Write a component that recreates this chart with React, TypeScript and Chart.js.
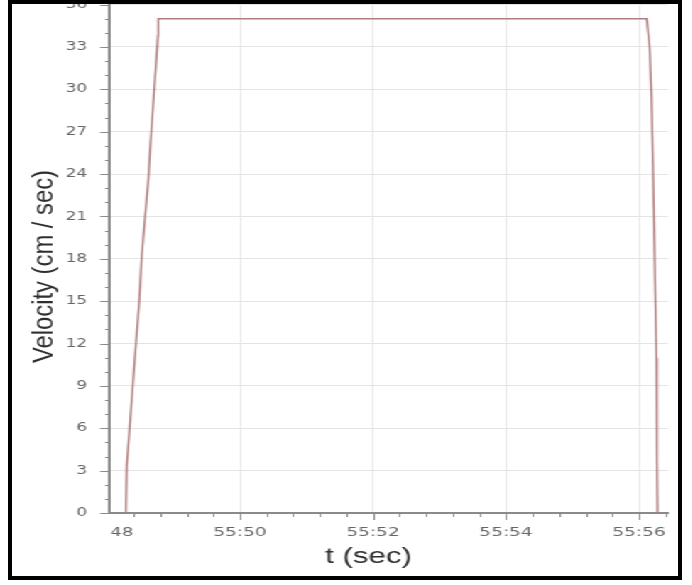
import React, { useEffect, useRef } from 'react';
import { Chart, registerables } from 'chart.js';

Chart.register(...registerables);

// ---------- data ----------
const timeSec = [48.283, 48.296, 48.335, 48.371, 48.486, 48.522, 48.621, 48.647, 48.767, 48.771, 56.116, 56.16, 56.19, 56.225, 56.262, 56.27, 56.278];
const velocity = [0, 3.3, 5.7, 8.0, 15.1, 18.2, 23.6, 25.7, 33.8, 35, 35, 33, 29.3, 21, 11, 3.6, 0];

const xMajorSeconds = [48, 50, 52, 54, 56];
const xMajorLabels = ['55:48', '55:50', '55:52', '55:54', '55:56'];
const xMinorStep = 0.4;
const yMajorStep = 3;
const yMinorStep = 1;
const yTitle = 'Velocity (cm / sec)';
const xTitle = 't (sec)';

// ---------- layout (canvas coordinates, before horizontal stretch) ----------
const STRETCH = 1.42;
const CANVAS_W = 487;
const CANVAS_H = 605;
const SHIFT_Y = 20;
const PLOT_LEFT = 110 / STRETCH;
const PLOT_RIGHT = 668 / STRETCH;
const PLOT_TOP = 4.6 + SHIFT_Y;
const PLOT_BOTTOM = 513 + SHIFT_Y;
const X_MIN = 48.045;
const X_MAX = 56.436;
const Y_MIN = 0;
const Y_MAX = 36;

const AXIS = '#8a8a8a';
const GRID = '#e4e4e4';
const TICK_COLOR = '#666666';
const TITLE_COLOR = '#2e2e2e';
const LINE_COLOR = '#b07c7c';

const xTickValues: number[] = [];
for (let i = 1; i < 100; i++) {
  const v = Math.round((48 + xMinorStep * i) * 10) / 10;
  if (v > X_MAX) break;
  xTickValues.push(v);
}
const yTickValues: number[] = [];
for (let v = Y_MIN; v <= Y_MAX; v += yMinorStep) yTickValues.push(v);

const isMajorX = (v: number) => xMajorSeconds.some((m) => Math.abs(m - v) < 1e-6);
const xLabel = (v: number) => {
  const i = xMajorSeconds.findIndex((m) => Math.abs(m - v) < 1e-6);
  return i >= 0 ? xMajorLabels[i] : '';
};
const isMajorY = (v: number) => Math.abs(v % yMajorStep) < 1e-6;

const decorPlugin = {
  id: 'decor',
  afterDraw(chart: any) {
    const { ctx, chartArea: a, scales } = chart;
    const xs = scales.x;
    const ys = scales.y;
    ctx.save();
    // tick marks
    ctx.strokeStyle = AXIS;
    ctx.lineWidth = 1;
    ctx.beginPath();
    yTickValues.forEach((v) => {
      const py = Math.round(ys.getPixelForValue(v)) + 0.5;
      const len = isMajorY(v) ? 7 : 3.5;
      ctx.moveTo(a.left - len, py);
      ctx.lineTo(a.left, py);
    });
    xTickValues.forEach((v) => {
      const px = Math.round(xs.getPixelForValue(v)) + 0.5;
      const len = isMajorX(v) ? 7 : 4;
      ctx.moveTo(px, a.bottom);
      ctx.lineTo(px, a.bottom + len);
    });
    ctx.stroke();

    // first label, clipped at the y axis
    ctx.save();
    ctx.beginPath();
    ctx.rect(a.left + 1, a.bottom + 1, a.right - a.left, 60);
    ctx.clip();
    ctx.font = '13px "DejaVu Sans"';
    ctx.fillStyle = TICK_COLOR;
    ctx.textAlign = 'center';
    ctx.textBaseline = 'middle';
    ctx.fillText(xMajorLabels[0], xs.getPixelForValue(xMajorSeconds[0]), a.bottom + 12 + 7.8);
    ctx.restore();

    // y title (rotated, condensed along its length)
    ctx.save();
    ctx.fillStyle = TITLE_COLOR;
    ctx.font = '20px "Liberation Sans", Arial, sans-serif';
    ctx.textAlign = 'center';
    ctx.textBaseline = 'alphabetic';
    const w = ctx.measureText(yTitle).width;
    ctx.translate(52 / STRETCH, 266.5 + SHIFT_Y);
    ctx.rotate(-Math.PI / 2);
    ctx.scale(193 / w, 1);
    ctx.fillText(yTitle, 0, 0);
    ctx.restore();

    // x title
    ctx.fillStyle = TITLE_COLOR;
    ctx.font = '22px "Liberation Sans", Arial, sans-serif';
    ctx.textAlign = 'center';
    ctx.textBaseline = 'alphabetic';
    ctx.fillText(xTitle, 368.5 / STRETCH, 563.3 + SHIFT_Y);
    ctx.restore();
  },
};

export default function App() {
  const ref = useRef<HTMLCanvasElement>(null);

  useEffect(() => {
    const canvas = ref.current;
    if (!canvas) return;
    const chart = new Chart(canvas, {
      type: 'line',
      data: {
        datasets: [
          {
            data: timeSec.map((t, i) => ({ x: t, y: velocity[i] })),
            borderColor: LINE_COLOR,
            borderWidth: 1.4,
            pointRadius: 0,
            tension: 0,
            fill: false,
          },
        ],
      },
      options: {
        responsive: false,
        animation: false,
        devicePixelRatio: 1,
        layout: {
          padding: { left: 0, right: CANVAS_W - PLOT_RIGHT, top: PLOT_TOP, bottom: 0 },
        },
        plugins: {
          legend: { display: false },
          tooltip: { enabled: false },
          title: { display: false },
        },
        scales: {
          x: {
            type: 'linear',
            min: X_MIN,
            max: X_MAX,
            afterBuildTicks: (s: any) => {
              s.ticks = xTickValues.map((v) => ({ value: v }));
            },
            afterFit: (s: any) => {
              s.height = CANVAS_H - PLOT_BOTTOM;
            },
            grid: {
              drawTicks: false,
              lineWidth: 1,
              color: (c: any) => (c.tick && isMajorX(c.tick.value) ? GRID : 'rgba(0,0,0,0)'),
            },
            border: { display: true, color: AXIS, width: 2 },
            ticks: {
              autoSkip: false,
              maxRotation: 0,
              padding: 12,
              color: TICK_COLOR,
              font: { family: 'DejaVu Sans', size: 13 },
              callback: (v: any) => xLabel(Number(v)),
            },
            title: { display: false },
          },
          y: {
            type: 'linear',
            min: Y_MIN,
            max: Y_MAX,
            afterBuildTicks: (s: any) => {
              s.ticks = yTickValues.map((v) => ({ value: v }));
            },
            afterFit: (s: any) => {
              s.width = PLOT_LEFT;
            },
            grid: {
              drawTicks: false,
              lineWidth: 1,
              color: (c: any) => (c.tick && isMajorY(c.tick.value) ? GRID : 'rgba(0,0,0,0)'),
            },
            border: { display: true, color: AXIS, width: 2 },
            ticks: {
              autoSkip: false,
              padding: 16,
              color: TICK_COLOR,
              font: { family: 'DejaVu Sans', size: 12 },
              callback: (v: any) => (isMajorY(Number(v)) ? String(v) : ''),
            },
            title: { display: false },
          },
        },
      },
      plugins: [decorPlugin],
    } as any);
    return () => chart.destroy();
  }, []);

  return (
    <>
      <div
        style={{
          position: 'fixed',
          left: 0,
          top: -SHIFT_Y,
          width: CANVAS_W,
          height: CANVAS_H,
          transform: `scaleX(${STRETCH})`,
          transformOrigin: '0 0',
          background: '#ffffff',
        }}
      >
        <canvas
          ref={ref}
          width={CANVAS_W}
          height={CANVAS_H}
          style={{ display: 'block', width: CANVAS_W, height: CANVAS_H }}
        />
      </div>
      <div
        style={{
          position: 'fixed',
          left: 8,
          top: 0,
          width: 674,
          height: 580,
          border: '4px solid #000',
          boxSizing: 'border-box',
          pointerEvents: 'none',
        }}
      />
    </>
  );
}
